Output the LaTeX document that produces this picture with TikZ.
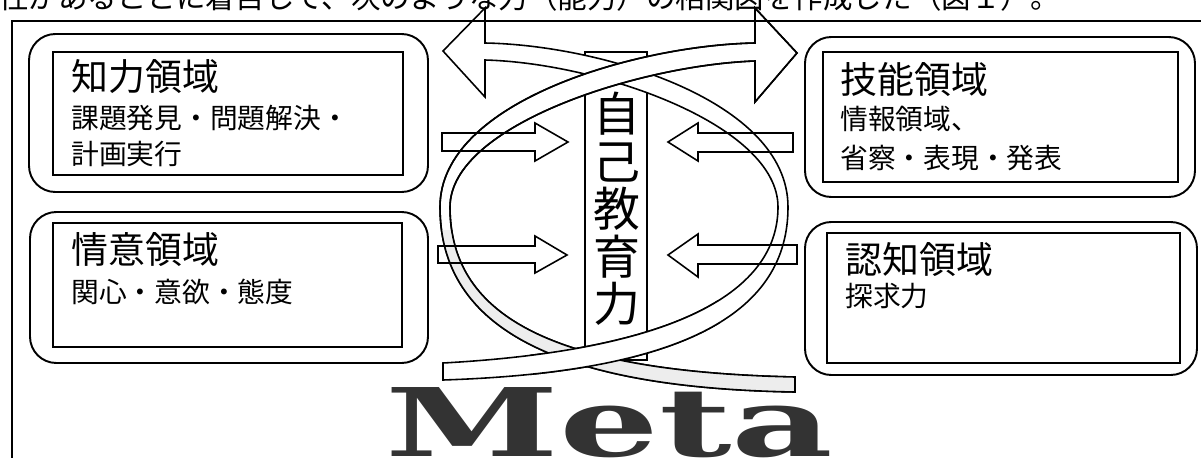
\documentclass[tikz,border=0pt]{standalone}
\usepackage{fontspec}
\usepackage{graphicx}
\newfontfamily\jp{Noto Sans CJK JP}
\newfontfamily\metafont{DejaVu Serif}
\begin{document}
\begin{tikzpicture}[x=0.02cm,y=-0.02cm,
  frame/.style={line width=1.7pt},
  outerbox/.style={draw, line width=1.1pt, rounded corners=15pt},
  innerbox/.style={draw, line width=1.1pt},
  ttl/.style={font=\jp\fontsize{21pt}{25pt}\selectfont, anchor=base west, inner sep=0pt},
  sub/.style={font=\jp\fontsize{15.8pt}{18pt}\selectfont, anchor=base west, inner sep=0pt},
  ribbon/.style={draw, fill=white, line width=0.9pt, line join=miter},
  blockarrow/.style={draw, line width=0.9pt, line join=miter},
]
\useasboundingbox (0,0) rectangle (1201,457);

% heading line (cut at top)
\node[font=\jp\fontsize{16.8pt}{20pt}\selectfont, anchor=base west, inner sep=0pt] (intro) at (-1,8) {性があることに着目して、次のような力（能力）の相関図を作成した（図１）。};

% four domain boxes
\draw[outerbox] (29,34) rectangle (428,192);
\draw[innerbox] (53,52) rectangle (403,175);
\draw[outerbox] (30,212) rectangle (428,363);
\draw[innerbox] (53,223) rectangle (402,347);
\draw[outerbox] (805,37) rectangle (1195,197);
\draw[innerbox] (823,52) rectangle (1178,182);
\draw[outerbox] (805,222) rectangle (1197,375);
\draw[innerbox] (827,233) rectangle (1180,363);

\node[ttl] (t1) at (71,90) {知力領域};
\node[sub] (s1a) at (71,128) {課題発見・問題解決・};
\node[sub] (s1b) at (71,164) {計画実行};
\node[ttl] (t2) at (71,263) {情意領域};
\node[sub] (s2) at (71,302) {関心・意欲・態度};
\node[ttl] (t3) at (840,93) {技能領域};
\node[sub] (s3a) at (840,129) {情報領域、};
\node[sub] (s3b) at (840,168) {省察・表現・発表};
\node[ttl] (t4) at (845,273) {認知領域};
\node[sub] (s4) at (845,306) {探求力};

% central column
\draw[line width=0.9pt, fill=white] (585,52) rectangle (647,360);
\node[font=\jp\fontsize{26.7pt}{27pt}\selectfont, align=center, inner sep=0pt] (core) at (617,209) {自\\己\\教\\育\\力};

% ribbons
\def\ribbonL{(485,43) -- (485,8) -- (443,51) -- (485,97) -- (485,60)
  .. controls (600,63) and (778,125) .. (778,207)
  .. controls (778,290) and (680,350) .. (443,363)
  -- (443,380)
  .. controls (690,372) and (788,310) .. (788,207)
  .. controls (788,100) and (600,45) .. (485,43) -- cycle}
\def\ribbonR{(755,43) -- (755,8) -- (797,53) -- (755,102) -- (755,61)
  .. controls (640,65) and (450,125) .. (450,207)
  .. controls (450,320) and (560,372) .. (795,377)
  -- (795,392)
  .. controls (560,388) and (440,330) .. (440,207)
  .. controls (440,100) and (640,45) .. (755,43) -- cycle}
\path[ribbon] \ribbonL;
\path[ribbon] \ribbonR;
\begin{scope}
  \clip (430,230) rectangle (800,420);
  \path[fill=gray!14] \ribbonR;
\end{scope}
\path[draw, line width=0.9pt] \ribbonR;
\begin{scope}
  \clip (530,300) rectangle (720,420);
  \path[ribbon] \ribbonL;
\end{scope}

% block arrows toward the centre
\draw[blockarrow] (442,133) -- (535,133) -- (535,123) -- (568,142) -- (535,161) -- (535,151) -- (442,151) -- cycle;
\draw[blockarrow] (793,133) -- (698,133) -- (698,123) -- (668,142) -- (698,161) -- (698,152) -- (793,152) -- cycle;
\draw[blockarrow] (438,246) -- (535,246) -- (535,236) -- (567,255) -- (535,273) -- (535,263) -- (438,263) -- cycle;
\draw[blockarrow] (797,245) -- (698,245) -- (698,234) -- (668,255) -- (698,277) -- (698,264) -- (797,264) -- cycle;

% Meta
\node[anchor=base west, inner sep=0pt, text=black!80] (meta) at (385,456) {\resizebox{8.96cm}{1.38cm}{\metafont\bfseries Meta}};

% frame
\draw[frame] (12,470) -- (12,21) -- (1215,21);
\end{tikzpicture}
\end{document}
